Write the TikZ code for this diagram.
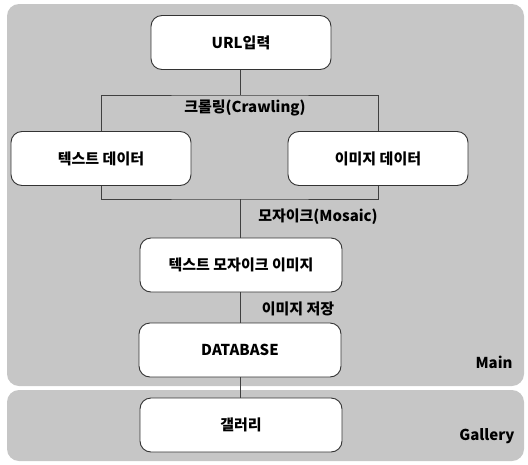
\documentclass[tikz,border=0pt]{standalone}
\usepackage{fontspec}
\setmainfont{Noto Sans CJK KR}
\usetikzlibrary{positioning}

\tikzset{
  panel/.style={fill=gray!45, draw=none, rounded corners=12pt},
  stage/.style={draw=black!80, line width=0.9pt, fill=white, rounded corners=11pt,
    minimum width=180pt, minimum height=54pt, font=\fontsize{15}{18}\selectfont\bfseries},
  wire/.style={draw=black!75, line width=0.8pt},
  tag/.style={font=\fontsize{15}{18}\selectfont\bfseries}
}

\begin{document}
\begin{tikzpicture}[x=1pt, y=-1pt]
        \useasboundingbox (0,0) rectangle (528,464);
        % Background panels
        \path[panel] (7,4) rectangle (524,386);
        \path[panel] (7,390) rectangle (524,461);
        % Input
        \node[stage] (url) at (241,42.5) {URL입력};
        % Crawled data
        \node[stage] (txtdata) at (101,158.5) {텍스트 데이터};
        \node[stage] (imgdata) at (378,158.5) {이미지 데이터};
        % Mosaic result, storage and gallery
        \node[stage, minimum width=202pt] (mosaic) at (241,265) {텍스트 모자이크 이미지};
        \node[stage, minimum width=202pt] (db) at (240,350) {DATABASE};
        \node[stage, minimum width=202pt] (gallery) at (241,425) {갤러리};
        % Branch and join points
        \coordinate (split) at (240,95);
        \coordinate (merge) at (240,199);
        % Connectors
        \draw[wire] (url.south -| split) -- (split);
        \draw[wire] (txtdata.north) |- (split) -| (imgdata.north);
        \draw[wire] (txtdata.south) |- (merge) -| (imgdata.south);
        \draw[wire] (merge) -- (mosaic.north -| merge);
        \draw[wire] (mosaic.south -| merge) -- (db.north -| merge);
        \draw[wire] (db.south -| merge) -- (gallery.north -| merge);
        % Step labels
        \node[tag] (crawl) at (245,108) {크롤링(Crawling)};
        \node[tag] (mos) at (318,217) {모자이크(Mosaic)};
        \node[tag] (save) at (298,309) {이미지 저장};
        % Panel names
        \node[tag, anchor=east] (mainlbl) at (516,362) {Main};
        \node[tag, anchor=east] (gallbl) at (518,436) {Gallery};
    \end{tikzpicture}
\end{document}
